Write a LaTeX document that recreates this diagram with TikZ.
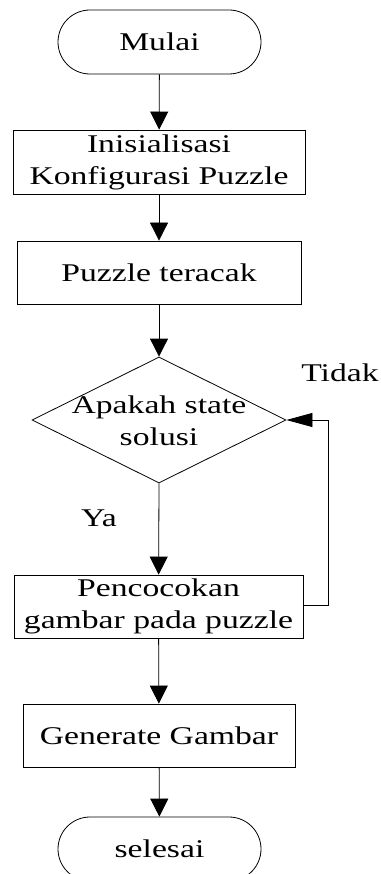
\documentclass[tikz,border=0pt]{standalone}
\usepackage{fontspec}
\setmainfont{Liberation Serif}[FakeStretch=1.32]
\usetikzlibrary{shapes.geometric,shapes.misc,arrows.meta}
\begin{document}
\begin{tikzpicture}[x=1pt,y=-1pt,
  every node/.style={font=\fontsize{25.5}{32}\selectfont, text=black, align=center, inner sep=0pt},
  term/.style={draw, rounded rectangle, minimum width=203pt, minimum height=64pt, line width=0.8pt},
  proc/.style={draw, rectangle, minimum height=63pt, line width=0.8pt},
  dec/.style={draw, diamond, minimum width=254pt, minimum height=126pt, line width=0.8pt},
  flow/.style={line width=0.8pt, -{Triangle[length=18pt,width=18pt]}},
  loopflow/.style={line width=0.8pt, -{Triangle[length=26pt,width=14pt]}}
]
\useasboundingbox (0,0) rectangle (380,874);
\node[term] (mulai) at (159.5,42) {Mulai};
\node[proc, minimum width=292pt, minimum height=64pt] (init) at (159,162) {Inisialisasi\\Konfigurasi Puzzle};
\node[proc, minimum width=284pt] (acak) at (159,272.5) {Puzzle teracak};
\node[dec] (cek) at (159,420) {};
\node (cektext) at (159,421) {Apakah state\\solusi};
\node[proc, minimum width=289pt] (cocok) at (158.5,606.5) {Pencocokan\\gambar pada puzzle};
\node[proc, minimum width=272pt] (gen) at (159,735.5) {Generate Gambar};
\node[term] (selesai) at (159.5,849) {selesai};
\node (ya) at (99,518) {Ya};
\node (tidak) at (340,373) {Tidak};
\coordinate (loopc) at (328,605);
\draw[flow] (mulai) -- (init);
\draw[flow] (init) -- (acak);
\draw[flow] (acak) -- (cek.north);
\draw[flow] (cek.south) -- (cocok);
\draw[flow] (cocok) -- (gen);
\draw[flow] (gen) -- (selesai);
\draw[loopflow] (cocok.east |- loopc) -- (loopc) |- (cek.east);
\end{tikzpicture}
\end{document}
